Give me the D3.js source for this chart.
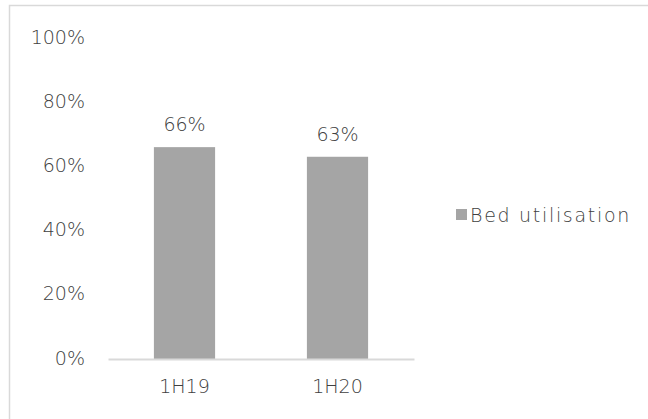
<!DOCTYPE html>
<html>
<head>
<meta charset="utf-8">
<title>Bed utilisation</title>
<style>
	body { margin: 0; background: #fff; }
	text { font-family: "DejaVu Sans", sans-serif; font-weight: 300; fill: #404040; }
</style>
</head>
<body>
<div class="chart"></div>
<script src="https://cdn.jsdelivr.net/npm/d3@7"></script>
<script>
	// data
	let categories = ["1H19", "1H20"];
	let values = [0.66, 0.63];
	let yTicks = [0, 0.2, 0.4, 0.6, 0.8, 1.0];
	let seriesName = "Bed utilisation";

	window.onload = function(){
		drawChart();
	}

	function drawChart(){
		let width = 648, height = 419;
		let plot = {"left": 108, "right": 414, "top": 38, "bottom": 359};
		let fontSize = 19;

		let svg = d3.select(".chart").append("svg")
			.attr("width", width)
			.attr("height", height);

		// outer border (right and bottom edges fall outside the window)
		svg.append("rect")
			.attr("x", 9.5).attr("y", 5.5)
			.attr("width", 700).attr("height", 500)
			.attr("fill", "none")
			.attr("stroke", "#d9d9d9")
			.attr("stroke-width", 1.5);

		let x = d3.scaleBand()
			.domain(categories)
			.range([plot.left, plot.right]);
		let y = d3.scaleLinear()
			.domain([0, 1])
			.range([plot.bottom, plot.top]);

		let barWidth = x.bandwidth() * 0.4;

		// y tick labels
		svg.append("g")
			.selectAll("text")
			.data(yTicks)
			.enter()
			.append("text")
			.attr("x", 85)
			.attr("y", d => y(d) - 1)
			.attr("dy", "0.35em")
			.attr("text-anchor", "end")
			.style("font-size", fontSize + "px")
			.text(d => d3.format(".0%")(d));

		// bars
		svg.append("g")
			.selectAll("rect")
			.data(values)
			.enter()
			.append("rect")
			.attr("x", (d, i) => x(categories[i]) + (x.bandwidth() - barWidth) / 2)
			.attr("y", d => y(d))
			.attr("width", barWidth)
			.attr("height", d => y(0) - y(d))
			.attr("fill", "#a5a5a5");

		// value labels
		svg.append("g")
			.selectAll("text")
			.data(values)
			.enter()
			.append("text")
			.attr("x", (d, i) => x(categories[i]) + x.bandwidth() / 2)
			.attr("y", d => y(d) - 16)
			.attr("text-anchor", "middle")
			.style("font-size", fontSize + "px")
			.text(d => d3.format(".0%")(d));

		// x axis
		let axisX = d3.axisBottom(x).tickSize(0).tickPadding(21);
		let gx = svg.append("g")
			.attr("transform", "translate(0," + plot.bottom + ")")
			.call(axisX);
		gx.select(".domain").attr("stroke", "#d9d9d9").attr("stroke-width", 2);
		gx.selectAll("text")
			.style("font-size", fontSize + "px")
			.style("font-family", "DejaVu Sans, sans-serif")
			.attr("fill", "#404040");

		// legend
		let legend = svg.append("g").attr("transform", "translate(456,209)");
		legend.append("rect")
			.attr("width", 11).attr("height", 11)
			.attr("fill", "#a5a5a5");
		legend.append("text")
			.attr("x", 14).attr("y", 6)
			.attr("dy", "0.35em")
			.style("font-size", fontSize + "px")
			.style("letter-spacing", "1.7px")
			.text(seriesName);
	}
</script>
</body>
</html>
